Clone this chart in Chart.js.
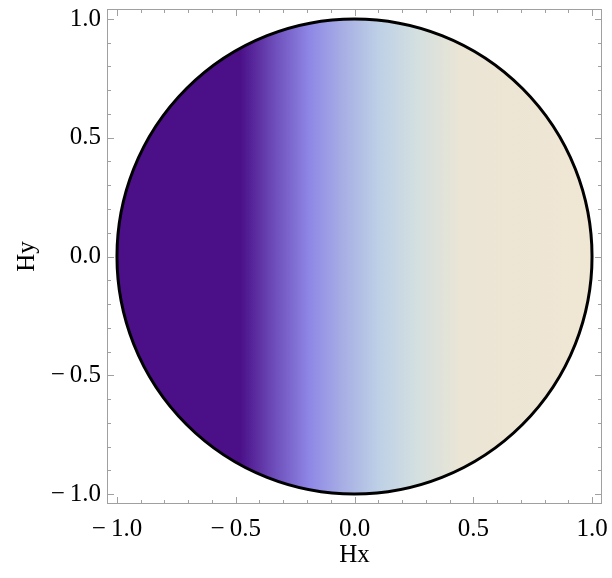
<!DOCTYPE html>
<html><head><meta charset="utf-8">
<script src="https://cdn.jsdelivr.net/npm/chart.js@4"></script>
<style>html,body{margin:0;padding:0;background:#fff}#wrap{width:612px;height:578px}</style>
</head><body><div id="wrap"><canvas id="c" width="612" height="578"></canvas></div>
<script>
const xTicks = [-1, -0.5, 0, 0.5, 1];
const yTicks = [-1, -0.5, 0, 0.5, 1];
const minorTicks = [-1, -0.9, -0.8, -0.7, -0.6, -0.5, -0.4, -0.3, -0.2, -0.1, 0, 0.1, 0.2, 0.3, 0.4, 0.5, 0.6, 0.7, 0.8, 0.9, 1];
const circleCenter = [0, 0];
const circleRadius = [1];
const gradientHx = [-1, -0.48, -0.34, -0.19, -0.05, 0.1, 0.26, 0.45, 1];
const gradientColors = ['#4b1088', '#4b1088', '#6d4cb9', '#8e87e6', '#a7aee4', '#bdd0e6', '#d3dfe0', '#ebe5d5', '#f0e6d4'];
const xTitle = 'Hx';
const yTitle = 'Hy';

const FONT = {family: "'Liberation Serif', 'Times New Roman', Times, serif", size: 25};
function fmt(v) {
  const a = Math.abs(v).toFixed(1);
  return v < -1e-9 ? '\u2212\u2009' + a : a;
}

const circlePlugin = {
  id: 'circleFrame',
  beforeDatasetsDraw(chart) {
    const ctx = chart.ctx, xs = chart.scales.x, ys = chart.scales.y;
    const cx = xs.getPixelForValue(circleCenter[0]);
    const cy = ys.getPixelForValue(circleCenter[1]);
    const rx = Math.abs(xs.getPixelForValue(circleCenter[0] + circleRadius[0]) - cx);
    const ry = Math.abs(ys.getPixelForValue(circleCenter[1] + circleRadius[0]) - cy);
    const g = ctx.createLinearGradient(xs.getPixelForValue(-1), 0, xs.getPixelForValue(1), 0);
    gradientHx.forEach((h, i) => g.addColorStop((h + 1) / 2, gradientColors[i]));
    ctx.save();
    ctx.beginPath();
    ctx.ellipse(cx, cy, rx, ry, 0, 0, Math.PI * 2);
    ctx.fillStyle = g;
    ctx.fill();
    ctx.lineWidth = 3;
    ctx.strokeStyle = '#000';
    ctx.stroke();
    ctx.restore();
  },
  afterDraw(chart) {
    const ctx = chart.ctx, a = chart.chartArea, xs = chart.scales.x, ys = chart.scales.y;
    ctx.save();
    ctx.strokeStyle = '#a0a0a0';
    ctx.lineWidth = 1;
    ctx.strokeRect(Math.round(a.left) + 0.5, Math.round(a.top) + 0.5, Math.round(a.right - a.left) - 1, Math.round(a.bottom - a.top) - 1);
    ctx.beginPath();
    minorTicks.forEach(v => {
      const major = Math.abs(v * 2 - Math.round(v * 2)) < 1e-6;
      const L = major ? 7 : 4;
      const px = Math.round(xs.getPixelForValue(v)) + 0.5;
      const py = Math.round(ys.getPixelForValue(v)) + 0.5;
      ctx.moveTo(px, a.bottom); ctx.lineTo(px, a.bottom - L);
      ctx.moveTo(px, a.top); ctx.lineTo(px, a.top + L);
      ctx.moveTo(a.left, py); ctx.lineTo(a.left + L, py);
      ctx.moveTo(a.right, py); ctx.lineTo(a.right - L, py);
    });
    ctx.stroke();
    ctx.restore();
  }
};

function build() {
  new Chart(document.getElementById('c'), {
    type: 'scatter',
    data: {datasets: [{data: [], showLine: false}]},
    options: {
      responsive: false,
      animation: false,
      devicePixelRatio: 1,
      layout: {padding: {top: 9, right: 10, left: 0, bottom: 0}},
      plugins: {legend: {display: false}, tooltip: {enabled: false}},
      scales: {
        x: {
          type: 'linear', min: -1.042, max: 1.042,
          afterBuildTicks: s => { s.ticks = xTicks.map(v => ({value: v})); },
          afterFit: s => { s.height = 74; s.paddingLeft = 0; s.paddingRight = 0; },
          grid: {display: false, drawTicks: false},
          border: {display: false},
          ticks: {callback: v => fmt(v), font: FONT, color: '#000', padding: 10, maxRotation: 0, autoSkip: false},
          title: {display: true, text: xTitle, font: FONT, color: '#000', padding: {top: 0, bottom: 8}}
        },
        y: {
          type: 'linear', min: -1.042, max: 1.042,
          afterBuildTicks: s => { s.ticks = yTicks.map(v => ({value: v})); },
          afterFit: s => { s.width = 107; s.paddingTop = 0; s.paddingBottom = 0; },
          grid: {display: false, drawTicks: false},
          border: {display: false},
          ticks: {callback: v => fmt(v), font: FONT, color: '#000', padding: 6, autoSkip: false},
          title: {display: true, text: yTitle, font: FONT, color: '#000', padding: {top: 12, bottom: 0}}
        }
      }
    },
    plugins: [circlePlugin]
  });
}
if (document.fonts && document.fonts.load) {
  document.fonts.load("25px 'Liberation Serif'").then(build, build);
} else { build(); }
</script></body></html>
